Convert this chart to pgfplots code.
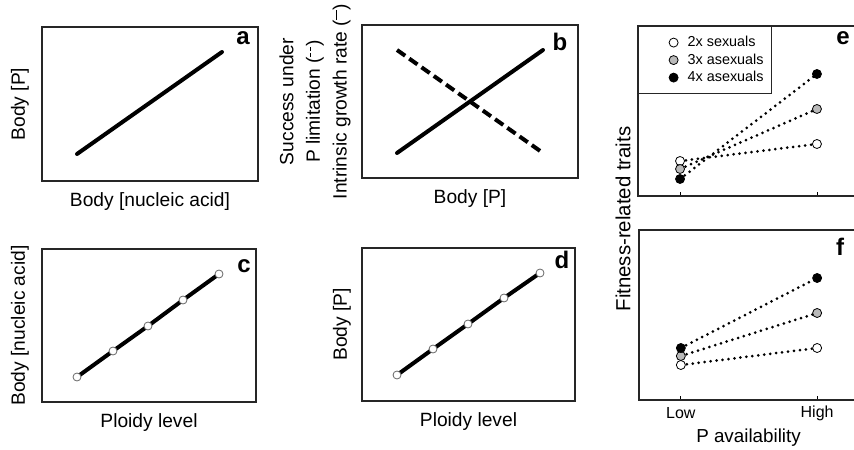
\documentclass[border=0pt]{standalone}
\usepackage{fontspec}
\setmainfont{Liberation Sans}
\usepackage{pgfplots}
\pgfplotsset{compat=1.18}
\definecolor{mgray}{RGB}{185,185,185}
\tikzset{plab/.style={font=\bfseries\fontsize{12}{12}\selectfont, anchor=center}}
\pgfplotsset{
  panel/.style={scale only axis, clip=false,
    axis line style={line width=0.6pt, black!85},
    xtick=\empty, ytick=\empty,
    label style={font=\fontsize{9.6}{11.5}\selectfont},
    xlabel style={at={([yshift=-10.5pt]axis description cs:0.5,0)}, anchor=center},
    ylabel style={at={([xshift=-11pt]axis description cs:0,0.5)}, anchor=center},
  },
  thickline/.style={line width=2pt, line cap=round, black},
  ploidy/.style={thickline, mark=*, mark size=2pt,
    mark options={solid, fill=white, draw=black!60, line width=0.4pt}},
  dotline/.style={line width=1.5pt, line cap=round, dash pattern=on 0pt off 3pt, black,
    mark=*, mark size=2.25pt},
}
\begin{document}
\begin{tikzpicture}
\useasboundingbox (0,0) rectangle (427pt,224.5pt);
\clip (0,0) rectangle (427pt,224.5pt);

% panel a
\begin{axis}[panel, at={(21pt,134pt)}, anchor=south west, width=108pt, height=77pt,
  xmin=0, xmax=216, ymin=0, ymax=154,
  xlabel={Body [nucleic acid]}, ylabel={Body [P]}]
\addplot[thickline] coordinates {(35,27) (180,129)};
\node[plab] at ([xshift=-7.5pt,yshift=-5.5pt]rel axis cs:1,1) {a};
\end{axis}

% panel b
\begin{axis}[panel, at={(181pt,135.5pt)}, anchor=south west, width=108pt, height=76.5pt,
  xmin=0, xmax=216, ymin=0, ymax=153,
  xlabel={Body [P]},
  ylabel={Success under\\P limitation (\raisebox{0.9ex}{\rule{0.22em}{0.5pt}\hspace{0.1em}\rule{0.22em}{0.5pt}})\\Intrinsic growth rate (\raisebox{0.9ex}{\rule{0.5em}{0.5pt}})},
  ylabel style={at={([xshift=-23.5pt]axis description cs:0,0.5)}, anchor=center, align=center,
    font=\fontsize{9.6}{13.3}\selectfont}]
\addplot[thickline] coordinates {(35,25) (181,128)};
\addplot[thickline, line cap=butt, dash pattern=on 5pt off 2.5pt] coordinates {(35,128) (181,25)};
\node[plab] at ([xshift=-9pt,yshift=-8.5pt]rel axis cs:1,1) {b};
\end{axis}

% panel c
\begin{axis}[panel, at={(21pt,23.5pt)}, anchor=south west, width=107pt, height=76.5pt,
  xmin=0, xmax=214, ymin=0, ymax=153,
  xlabel={Ploidy level}, ylabel={Body [nucleic acid]}]
\addplot[ploidy] coordinates {(35,25) (71,51) (106,76) (141,102) (177,128)};
\node[plab] at ([xshift=-6pt,yshift=-8.5pt]rel axis cs:1,1) {c};
\end{axis}

% panel d
\begin{axis}[panel, at={(181pt,24pt)}, anchor=south west, width=106.5pt, height=76.5pt,
  xmin=0, xmax=213, ymin=0, ymax=153,
  xlabel={Ploidy level}, ylabel={Body [P]},
  ylabel style={at={([xshift=-10pt]axis description cs:0,0.5)}, anchor=center}]
\addplot[ploidy] coordinates {(35,26) (71,52) (106,77) (142,103) (178,128)};
\node[plab] at ([xshift=-6.5pt,yshift=-6pt]rel axis cs:1,1) {d};
\end{axis}

% panel e
\begin{axis}[panel, at={(319pt,126.5pt)}, anchor=south west, width=110pt, height=85pt,
  xmin=-0.307, xmax=1.3, ymin=0, ymax=170,
  xtick={0,1}, xticklabels={}, xtick pos=lower, tick align=inside, major tick length=2pt,
  tick style={black, line width=0.4pt},
  legend cell align=left,
  legend image code/.code={\path[draw=none, fill=none] (0pt,-1pt) -- (18pt,1pt); \draw[#1] plot coordinates {(13.5pt,0pt)};},
  legend style={at={(rel axis cs:0,1)}, anchor=north west, draw=black!85, line width=0.6pt,
    font=\fontsize{7.2}{8.6}\selectfont, inner xsep=4pt, inner ysep=5pt, row sep=2.75pt,
    column sep=2.5pt, nodes={inner sep=0pt, text height=5pt, text depth=1pt}}]
\addlegendimage{only marks, mark=*, mark size=2.25pt, mark options={solid, fill=white, draw=black, line width=0.4pt}}
\addlegendentry{2x sexuals}
\addlegendimage{only marks, mark=*, mark size=2.25pt, mark options={solid, fill=mgray, draw=black, line width=0.4pt}}
\addlegendentry{3x asexuals}
\addlegendimage{only marks, mark=*, mark size=2.25pt, mark options={solid, fill=black, draw=black, line width=0.4pt}}
\addlegendentry{4x asexuals}
\addplot[dotline, mark options={solid, fill=white, draw=black, line width=0.4pt}, forget plot] coordinates {(0,35) (1,52)};
\addplot[dotline, mark options={solid, fill=mgray, draw=black, line width=0.4pt}, forget plot] coordinates {(0,27) (1,87)};
\addplot[dotline, mark options={solid, fill=black, draw=black, line width=0.4pt}, forget plot] coordinates {(0,17) (1,122)};
\node[plab] at ([xshift=-7.5pt,yshift=-6pt]rel axis cs:1,1) {e};
\end{axis}

% panel f
\begin{axis}[panel, at={(319.5pt,24.5pt)}, anchor=south west, width=109.5pt, height=85pt,
  xmin=-0.307, xmax=1.3, ymin=0, ymax=170,
  xtick={0,1}, xticklabels={Low,High}, xtick pos=lower, tick align=inside, major tick length=2pt,
  tick style={black, line width=0.4pt},
  xticklabel style={font=\fontsize{8}{9.6}\selectfont, anchor=center, yshift=-6.5pt},
  xlabel={P availability},
  xlabel style={at={([yshift=-19pt]axis description cs:0.5,0)}, anchor=center,
    font=\fontsize{9.4}{11}\selectfont}]
\addplot[dotline, mark options={solid, fill=white, draw=black, line width=0.4pt}] coordinates {(0,35) (1,52)};
\addplot[dotline, mark options={solid, fill=mgray, draw=black, line width=0.4pt}] coordinates {(0,44) (1,87)};
\addplot[dotline, mark options={solid, fill=black, draw=black, line width=0.4pt}] coordinates {(0,52) (1,122)};
\node[plab] at ([xshift=-9pt,yshift=-8.5pt]rel axis cs:1,1) {f};
\end{axis}

\node[rotate=90, anchor=center, font=\fontsize{10.2}{12}\selectfont] at (311.5pt,115pt) {Fitness-related traits};
\end{tikzpicture}
\end{document}
